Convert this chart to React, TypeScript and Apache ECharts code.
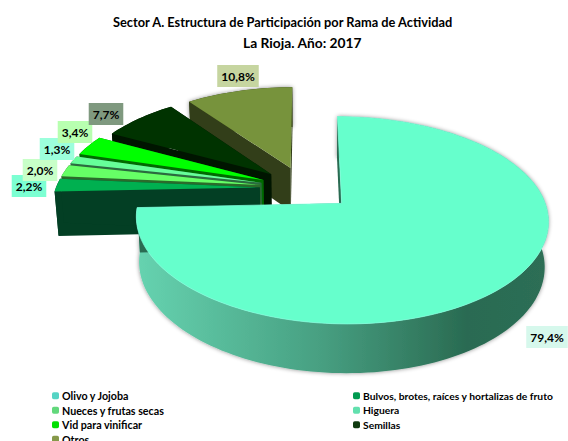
import React, { useEffect, useRef } from "react";
import * as echarts from "echarts";

const categories = ["Olivo y Jojoba", "Bulvos, brotes, raíces y hortalizas de fruto", "Nueces y frutas secas", "Higuera", "Vid para vinificar", "Semillas", "Otros"];
const values = [79.4, 2.2, 2.0, 1.3, 3.4, 7.7, 10.8];
const topColors = ["#66FFCC", "#00B050", "#66FF66", "#66FF99", "#00FF00", "#003300", "#77933C"];
const sideColors = ["#2A6B52", "#033F24", "#2B6B2B", "#2B6B40", "#006B00", "#001500", "#323E19"];
const legendColors = ["#55D4C4", "#009A50", "#62D87C", "#62E0AE", "#00E000", "#0F3A0F", "#86994A"];
const labelFills = ["#D6F8EC", "#7CFFD2", "#C8FFC8", "#9CFFDC", "#B8FFB0", "#7F997F", "#C6D5A0"];
const labelCenters = [[547, 337], [29, 186], [40, 170], [57, 149], [75, 132], [106, 114], [238, 76]];
const titleLines = ["Sector A. Estructura de Participación por Rama de Actividad", "La Rioja. Año: 2017"];
const legendLeft = ["Olivo y Jojoba", "Nueces y frutas secas", "Vid para vinificar", "Otros"];
const legendRight = ["Bulvos, brotes, raíces y hortalizas de fruto", "Higuera", "Semillas"];

// projection of the tilted pie
const CX = 304, CY = 188, A = 201, B = 98.6, K = 0.15, EXPLODE = 0.22;
const project = (x: number, y: number, base: boolean, m: number, shift: number) => {
  const w = 1 + K * y + m * x;
  const sx = (A * x) / w;
  return [CX + shift + (base ? sx * 0.984 : sx), CY - (B * y) / w + (base ? 44 / Math.pow(w, 0.6) : 0)];
};

const total = values.reduce((a, b) => a + b, 0);
const FONT = "Lato, sans-serif";

export default function App() {
  const ref = useRef<HTMLDivElement>(null);
  useEffect(() => {
    document.body.style.margin = "0";
    const chart = echarts.init(ref.current!, undefined, { renderer: "svg" });
    let acc = 0;
    const slices = values.map((v, i) => {
      const start = (acc / total) * Math.PI * 2;
      acc += v;
      return { i, start, end: (acc / total) * Math.PI * 2 };
    });
    const makeSeries = (s: { i: number; start: number; end: number }) => ({
      type: "custom",
      name: categories[s.i],
      coordinateSystem: "none",
      silent: true,
      itemStyle: { color: topColors[s.i] },
      data: [[values[s.i]]],
      renderItem: () => {
        const main = s.i === 0;
        const m = main ? 0 : s.i >= 5 ? -0.01 : 0.01;
        const shift = main ? 5 : 0;
        const rx = main ? 0.99 : 1;
        const mid = (s.start + s.end) / 2;
        const ax = EXPLODE * Math.sin(mid), ay = EXPLODE * Math.cos(mid);
        const n = Math.max(6, Math.ceil((s.end - s.start) / 0.03));
        const arc: number[][] = [];
        for (let j = 0; j <= n; j++) {
          const t = s.start + ((s.end - s.start) * j) / n;
          const c = Math.cos(t);
          const ry = !main ? 1 : c > 0 ? 0.965 : 0.99;
          arc.push([ax + rx * Math.sin(t), ay + ry * c]);
        }
        const top = arc.map((p) => project(p[0], p[1], false, m, shift));
        const base = arc.map((p) => project(p[0], p[1], true, m, shift));
        const apexT = project(ax, ay, false, m, shift), apexB = project(ax, ay, true, m, shift);
        const side = sideColors[s.i];
        const wallFill = main
          ? new echarts.graphic.LinearGradient(0, 0, 1, 0, [
              { offset: 0, color: "#66D3B0" },
              { offset: 0.45, color: "#479F81" },
              { offset: 0.8, color: "#2A6B52" },
              { offset: 1, color: "#2D6E55" },
            ])
          : side;
        const shadow = main || s.i === 6 ? { shadowBlur: 4, shadowColor: "rgba(0,0,0,0.45)" } : {};
        return {
          type: "group",
          children: [
            { type: "polygon", shape: { points: [...top, ...base.slice().reverse()] }, style: { fill: wallFill, ...shadow } },
            { type: "polygon", shape: { points: [apexT, top[0], base[0], apexB] }, style: { fill: side } },
            { type: "polygon", shape: { points: [apexT, top[n], base[n], apexB] }, style: { fill: side } },
            { type: "polygon", shape: { points: [apexT, ...top] }, style: main ? { fill: topColors[0], stroke: "#80FFDD", lineWidth: 0.7 } : { fill: topColors[s.i] } },
          ],
        };
      },
    });
    const legendBase = (size: number) => ({
      orient: "vertical",
      icon: "roundRect",
      itemWidth: 7,
      itemHeight: 7,
      itemGap: 3,
      height: 70,
      padding: 0,
      textStyle: { fontFamily: FONT, fontWeight: "bold", fontSize: size, lineHeight: 11.5, color: "#000", padding: [0, 0, 0, -2] },
    });
    const legendData = (names: string[]) =>
      names.map((name) => ({ name, itemStyle: { color: legendColors[categories.indexOf(name)] } }));
    chart.setOption({
      animation: false,
      title: [
        { text: titleLines[0], left: 113, top: 15, padding: 0, textStyle: { fontFamily: FONT, fontWeight: "bold", fontSize: 12.8, color: "#000" } },
        { text: titleLines[1], left: 243, top: 35, padding: 0, textStyle: { fontFamily: FONT, fontWeight: "bold", fontSize: 13.8, color: "#000" } },
      ],
      legend: [
        { ...legendBase(10.7), data: legendData(legendLeft), left: 52, top: 390 },
        { ...legendBase(10.3), data: legendData(legendRight), left: 353, top: 390 },
      ],
      series: slices.slice().reverse().map(makeSeries),
      graphic: values.map((v, i) => ({
        type: "text",
        z: 100,
        x: labelCenters[i][0],
        y: labelCenters[i][1],
        style: {
          text: v.toFixed(1).replace(".", ",") + "%",
          font: `bold 12px ${FONT}`,
          fill: "#000",
          align: "center",
          verticalAlign: "middle",
          backgroundColor: labelFills[i],
          padding: [5, 4],
        },
      })),
    });
    return () => chart.dispose();
  }, []);
  return <div ref={ref} style={{ width: 568, height: 441, overflow: "hidden" }} />;
}
